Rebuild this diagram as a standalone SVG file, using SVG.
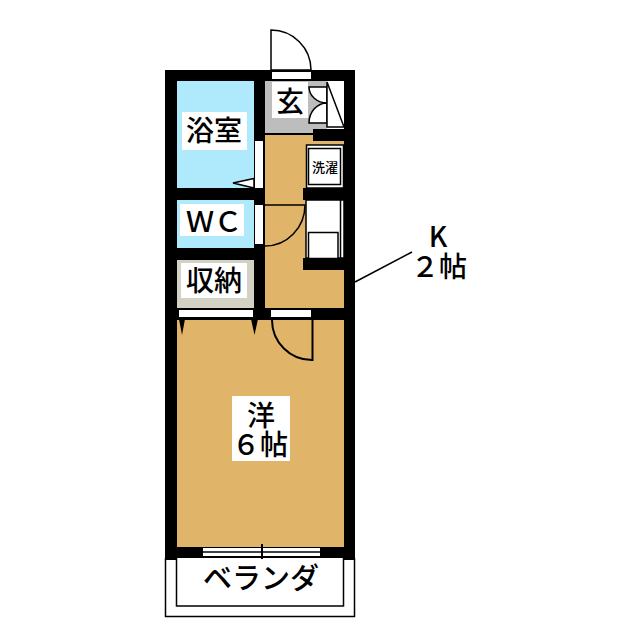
<svg xmlns="http://www.w3.org/2000/svg" width="640" height="640" viewBox="0 0 640 640">
<style>
.t{font-family:"Noto Sans CJK JP","Liberation Sans",sans-serif;fill:#000;text-anchor:middle;font-weight:500;font-size:28px}
.w{fill:#000}.wh{fill:#fff}.o{fill:#fff;stroke:#000;stroke-width:1.500}.l{fill:none;stroke:#000;stroke-width:1.500}.d{fill:none;stroke:#000;stroke-width:2}
</style>
<rect width="640" height="640" fill="#fff"/>
<g id="floors">
<rect x="177" y="81" width="77" height="107" fill="#aeeafc"/>
<rect x="177" y="200" width="77" height="48" fill="#aeeafc"/>
<rect x="177" y="260" width="77" height="48" fill="#d2d1c3"/>
<rect x="265" y="81" width="62" height="53" fill="#bdbdbd"/>
<rect x="265" y="134" width="79" height="174" fill="#e0b469"/>
<rect x="177" y="320" width="167" height="227" fill="#e0b469"/>
</g>
<g id="walls">
<rect class="w" x="165" y="70" width="190" height="11"/>
<rect class="w" x="165" y="70" width="12" height="490"/>
<rect class="w" x="344" y="70" width="11" height="490"/>
<rect class="w" x="254" y="70" width="11" height="250"/>
<rect class="w" x="165" y="188" width="100" height="12"/>
<rect class="w" x="165" y="248" width="100" height="12"/>
<rect class="w" x="165" y="308" width="190" height="12"/>
<rect class="w" x="165" y="547" width="190" height="11"/>
<rect class="w" x="313" y="129" width="42" height="12"/>
<rect class="w" x="303" y="188" width="52" height="12"/>
<rect class="w" x="303" y="258" width="52" height="12"/>
<rect x="265" y="133" width="48" height="2" fill="#000"/>
</g>
<g id="entry">
<path class="o" d="M271 70V30A40 40 0 0 1 311 70Z"/>
<rect class="wh" x="272" y="72" width="39" height="7"/>
<rect class="wh" x="272" y="82" width="36" height="36"/>
<text class="t" x="290" y="112">玄</text>
<path class="o" d="M309 87H327V103A18 16 0 0 1 309 87Z"/>
<path class="o" d="M309 123H327V103A18 20 0 0 0 309 123Z"/>
<rect class="wh" x="327" y="82" width="17" height="45"/>
<path class="l" d="M327 82V127H344M327 82L344 127"/>
</g>
<g id="bath">
<rect class="wh" x="182" y="112" width="65" height="38"/>
<text class="t" x="214" y="141">浴室</text>
<rect class="wh" x="255" y="141" width="8" height="47"/>
<path class="o" stroke-linejoin="miter" d="M233 183L254 178.500V188Z"/>
</g>
<g id="wc">
<rect class="wh" x="180" y="204" width="64" height="32"/>
<text class="t" x="214" y="232">ＷＣ</text>
<rect class="wh" x="255" y="205" width="8" height="39"/>
<path class="l" d="M265 205H305A40 41 0 0 1 265 246"/>
</g>
<g id="storage">
<rect class="wh" x="181" y="263" width="66" height="35"/>
<text class="t" x="214" y="291">収納</text>
<rect class="wh" x="179" y="310" width="74" height="7"/>
<path class="w" d="M179 319H185L182 335ZM251 319H258L254.500 335Z"/>
</g>
<g id="washer">
<rect class="o" x="306.500" y="145" width="37" height="43"/>
<rect class="o" x="308.500" y="148.500" width="32" height="36"/>
<text class="t" x="325" y="172" style="font-size:13px">洗濯</text>
</g>
<g id="kitchen">
<rect class="o" x="306" y="200" width="38" height="58"/>
<path class="l" d="M340.500 200V258"/>
<rect class="o" x="308.500" y="232.500" width="29.500" height="26"/>
</g>
<g id="room">
<rect class="wh" x="271" y="310" width="40" height="7"/>
<path class="d" d="M272 320A40 40 0 0 0 312.500 360V320"/>
<rect class="wh" x="232" y="396" width="58" height="65"/>
<text class="t"><tspan x="261" y="426">洋</tspan><tspan x="260" y="455">６帖</tspan></text>
</g>
<g id="balcony">
<path class="l" d="M165.500 558V616.500H354.500V558M176.500 558V606H343.500V558"/>
<rect class="wh" x="203" y="548" width="117" height="8"/>
<path d="M203 552H320" stroke="#000" stroke-width="1.500"/>
<path d="M262 544V559" stroke="#000" stroke-width="2"/>
<text class="t" x="261" y="589" style="font-size:29px">ベランダ</text>
</g>
<g id="connectors">
<path class="l" d="M355 282L412 252"/>
</g>
<g id="kitchen-label">
<text class="t"><tspan x="438" y="247">K</tspan><tspan x="439" y="277">２帖</tspan></text>
</g>
</svg>
